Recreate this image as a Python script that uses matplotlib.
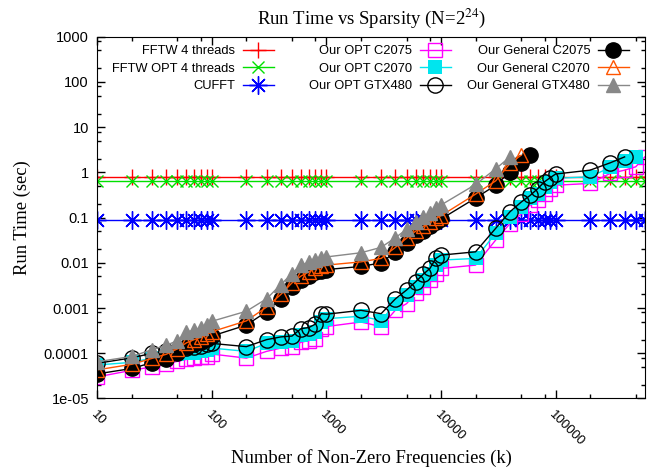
import numpy as np
import matplotlib.pyplot as plt
from matplotlib.ticker import LogLocator, NullFormatter, FixedLocator
from matplotlib.transforms import ScaledTranslation
from matplotlib.legend import Legend

# k values (number of non-zero frequencies)
k = [10, 20, 30, 40, 50, 60, 70, 80, 90, 100,
     200, 300, 400, 500, 600, 700, 800, 900, 1000,
     2000, 3000, 4000, 5000, 6000, 7000, 8000, 9000, 10000,
     20000, 30000, 40000, 50000, 60000, 70000, 80000, 90000, 100000,
     200000, 300000, 400000, 500000, 600000]

fftw = [0.78, 0.78, 0.78, 0.78, 0.78, 0.78, 0.78, 0.78, 0.78, 0.78,
        0.78, 0.78, 0.78, 0.78, 0.78, 0.78, 0.78, 0.78, 0.78,
        0.78, 0.78, 0.78, 0.78, 0.78, 0.78, 0.78, 0.78, 0.78,
        0.78, 0.78, 0.78, 0.78, 0.78, 0.78, 0.78, 0.78, 0.78,
        0.78, 0.78, 0.78, 0.78, 0.78]
fftw_opt = [0.65, 0.65, 0.65, 0.65, 0.65, 0.65, 0.65, 0.65, 0.65, 0.65,
            0.65, 0.65, 0.65, 0.65, 0.65, 0.65, 0.65, 0.65, 0.65,
            0.65, 0.65, 0.65, 0.65, 0.65, 0.65, 0.65, 0.65, 0.65,
            0.65, 0.65, 0.65, 0.65, 0.65, 0.65, 0.65, 0.65, 0.65,
            0.65, 0.65, 0.65, 0.65, 0.65]
cufft = [0.088, 0.088, 0.088, 0.088, 0.088, 0.088, 0.088, 0.088, 0.088, 0.088,
         0.088, 0.088, 0.088, 0.088, 0.088, 0.088, 0.088, 0.088, 0.088,
         0.088, 0.088, 0.088, 0.088, 0.088, 0.088, 0.088, 0.088, 0.088,
         0.088, 0.088, 0.088, 0.088, 0.088, 0.088, 0.088, 0.088, 0.088,
         0.088, 0.088, 0.088, 0.088, 0.088]

opt_c2075 = [3.0e-5, 4.2e-5, 5.0e-5, 5.9e-5, 6.6e-5, 7.3e-5, 7.8e-5, 8.1e-5, 8.3e-5, 9.6e-5,
             7.8e-5, 1.1e-4, 1.3e-4, 1.4e-4, 1.75e-4, 1.9e-4, 2.1e-4, 3.5e-4, 3.9e-4,
             4.9e-4, 3.9e-4, 9e-4, 1.25e-3, 2.1e-3, 2.9e-3, 4.1e-3, 5.8e-3, 7.5e-3,
             8.9e-3, 0.032, 0.074, 0.12, 0.19, 0.24, 0.34, 0.44, 0.52,
             0.57, 0.95, 1.12, 1.33, 2.2]
opt_c2070 = [5.5e-5, 6.3e-5, 7.8e-5, 8.5e-5, 9.6e-5, 1.0e-4, 1.0e-4, 1.1e-4, 1.2e-4, 1.3e-4,
             1.1e-4, 1.65e-4, 1.75e-4, 1.9e-4, 2.5e-4, 2.7e-4, 2.9e-4, 4.9e-4, 5.8e-4,
             6.6e-4, 5.3e-4, 1.25e-3, 1.9e-3, 2.9e-3, 4.1e-3, 5.8e-3, 8.9e-3, 0.0115,
             0.0125, 0.045, 0.104, 0.17, 0.27, 0.34, 0.48, 0.62, 0.74,
             0.8, 1.29, 1.78, 2.2]
opt_gtx480 = [6.0e-5, 7.9e-5, 1.0e-4, 1.1e-4, 1.15e-4, 1.3e-4, 1.4e-4, 1.45e-4, 1.6e-4, 1.65e-4,
              1.4e-4, 2.0e-4, 2.3e-4, 2.4e-4, 3.5e-4, 3.7e-4, 4.4e-4, 7.5e-4, 7.3e-4,
              8.9e-4, 7.5e-4, 1.6e-3, 2.5e-3, 3.8e-3, 5.6e-3, 7.5e-3, 0.0125, 0.0148,
              0.0175, 0.058, 0.135, 0.22, 0.31, 0.44, 0.62, 0.77, 0.92,
              1.12, 1.63, 2.2]

gen_c2075 = [3.5e-5, 4.6e-5, 6.2e-5, 7.6e-5, 1.0e-4, 1.4e-4, 1.6e-4, 1.8e-4, 2.1e-4, 2.4e-4,
             4.2e-4, 8.3e-4, 1.6e-3, 2.9e-3, 4.1e-3, 5.1e-3, 6.2e-3, 6.6e-3, 7.1e-3,
             8.3e-3, 0.010, 0.0175, 0.028, 0.041, 0.051, 0.065, 0.081, 0.093,
             0.27, 0.52, 1.03, 1.58, 2.4]
gen_c2070 = [4.3e-5, 5.7e-5, 7.7e-5, 9.5e-5, 1.25e-4, 1.7e-4, 2.0e-4, 2.25e-4, 2.6e-4, 3.0e-4,
             5.2e-4, 1.05e-3, 2.0e-3, 3.6e-3, 5.1e-3, 6.3e-3, 7.6e-3, 8.3e-3, 8.9e-3,
             0.0105, 0.0125, 0.022, 0.035, 0.05, 0.064, 0.08, 0.097, 0.11,
             0.33, 0.65, 1.58, 2.4]
gen_gtx480 = [6.5e-5, 8.5e-5, 1.2e-4, 1.5e-4, 1.9e-4, 2.9e-4, 3.3e-4, 3.6e-4, 4.3e-4, 5.1e-4,
              8.5e-4, 1.6e-3, 3.3e-3, 5.8e-3, 8.9e-3, 0.0102, 0.0115, 0.0125, 0.0135,
              0.0167, 0.022, 0.036, 0.055, 0.081, 0.101, 0.128, 0.16, 0.19,
              0.54, 1.2, 2.2]

x_ticks = [10, 100, 1000, 10000, 100000]
x_tick_labels = ["10", "100", "1000", "10000", "100000"]
y_ticks = [1e-5, 1e-4, 1e-3, 1e-2, 1e-1, 1, 10, 100, 1000]
y_tick_labels = ["1e-05", "0.0001", "0.001", "0.01", "0.1", "1", "10", "100", "1000"]

plt.rcParams['font.family'] = ['Liberation Sans', 'DejaVu Sans']
plt.rcParams['mathtext.fontset'] = 'stix'

fig = plt.figure(figsize=(6.58, 4.71), dpi=100)
ax = fig.add_axes([0.1479, 0.154, 0.832, 0.768])

asterisk = (8, 2, 0)
series = [
    (fftw, "FFTW 4 threads", dict(color='#ff0000', marker='+', ms=11, mew=1.0)),
    (fftw_opt, "FFTW OPT 4 threads", dict(color='#00e000', marker='x', ms=9, mew=1.0)),
    (cufft, "CUFFT", dict(color='#0000ff', marker=asterisk, ms=13, mew=1.0)),
    (opt_c2075, "Our OPT C2075", dict(color='#ff00ff', marker='s', ms=10, mfc='none', mew=1.0)),
    (opt_c2070, "Our OPT C2070", dict(color='#00e5ee', marker='s', ms=10, mew=0)),
    (opt_gtx480, "Our OPT GTX480", dict(color='black', marker='o', ms=11, mfc='none', mew=1.0)),
    (gen_c2075, "Our General C2075", dict(color='black', marker='o', ms=11)),
    (gen_c2070, "Our General C2070", dict(color='#ff5500', marker='^', ms=10, mfc='none', mew=1.0)),
    (gen_gtx480, "Our General GTX480", dict(color='#888888', marker='^', ms=10)),
]
lines = []
for vals, label, style in series:
    ln, = ax.plot(k[:len(vals)], vals, lw=1.0, label=label, **style)
    lines.append(ln)

ax.set_xscale('log')
ax.set_yscale('log')
ax.set_xlim(10, 600000)
ax.set_ylim(1e-5, 1000)

ax.xaxis.set_major_locator(FixedLocator(x_ticks))
ax.set_xticklabels(x_tick_labels, rotation=-45, ha='left', va='top',
                   rotation_mode='anchor', fontsize=9.5)
shift = ScaledTranslation(4 / 100, 0, fig.dpi_scale_trans)
for lbl in ax.get_xticklabels():
    lbl.set_transform(lbl.get_transform() + shift)
ax.yaxis.set_major_locator(FixedLocator(y_ticks))
ax.set_yticklabels(y_tick_labels, fontsize=10.5)
ax.xaxis.set_minor_locator(LogLocator(base=10, subs=(2, 5, 8)))
ax.yaxis.set_minor_locator(LogLocator(base=10, subs=(2, 5, 8)))
ax.xaxis.set_minor_formatter(NullFormatter())
ax.yaxis.set_minor_formatter(NullFormatter())
ax.tick_params(which='both', direction='in', top=True, right=True)
ax.tick_params(which='major', length=6, width=1)
ax.tick_params(which='minor', length=3, width=1)
ax.tick_params(axis='x', pad=7)
ax.tick_params(axis='y', pad=6)

# titles centred on the plot area, gnuplot style
x_mid = (97.3 + 645) / 2 / 658
fig.text(x_mid, 1 - 18 / 471, "Run Time vs Sparsity (N=2$^{24}$)",
         family='Liberation Serif', fontsize=13.5, ha='center', va='center')
fig.text(x_mid, 1 - 458 / 471, "Number of Non-Zero Frequencies (k)",
         family='Liberation Serif', fontsize=13.4, ha='center', va='center')
fig.text(22 / 658, 1 - 218 / 471, "Run Time (sec)", family='Liberation Serif',
         fontsize=13.4, ha='center', va='center', rotation=90)

# gnuplot-style key: three columns, text right-aligned, sample on the right
col_right = [0.3226, 0.646, 0.971]
for c in range(3):
    hs = lines[3 * c:3 * c + 3]
    leg = Legend(ax, hs, [h.get_label() for h in hs], loc='upper right',
                 bbox_to_anchor=(col_right[c], 0.977), frameon=False,
                 markerfirst=False, fontsize=9.3, handlelength=2.4,
                 labelspacing=0.42, handletextpad=0.6, borderpad=0,
                 borderaxespad=0)
    ax.add_artist(leg)

fig.savefig("out.png", dpi=100)
